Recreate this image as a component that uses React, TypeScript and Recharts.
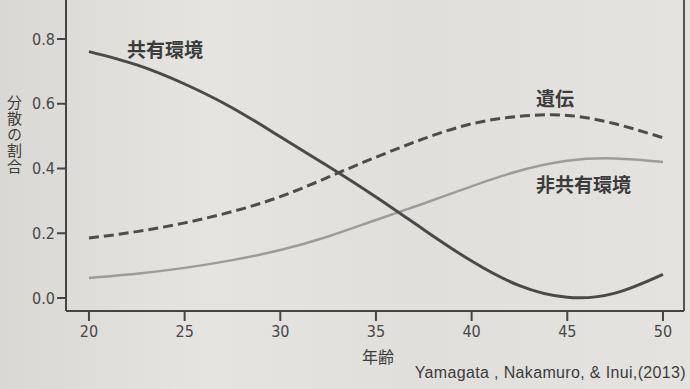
import React from "react";
import { LineChart, Line, XAxis, YAxis, ReferenceLine } from "recharts";

const ages = [20, 22.5, 25, 27.5, 30, 32.5, 35, 37.5, 40, 42.5, 45, 47.5, 50];
const sharedEnv = [0.761, 0.72, 0.661, 0.587, 0.498, 0.407, 0.312, 0.211, 0.114, 0.038, 0.002, 0.015, 0.073];
const genetic = [0.185, 0.205, 0.232, 0.267, 0.313, 0.373, 0.435, 0.492, 0.538, 0.561, 0.564, 0.538, 0.495];
const nonShared = [0.062, 0.075, 0.093, 0.117, 0.148, 0.19, 0.241, 0.292, 0.345, 0.393, 0.424, 0.431, 0.42];
const xTicks = [20, 25, 30, 35, 40, 45, 50];
const yTicks = [0, 0.2, 0.4, 0.6, 0.8];

const data = ages.map((a, i) => ({
  age: a,
  shared: sharedEnv[i],
  genetic: genetic[i],
  nonShared: nonShared[i],
}));

const tickFont = "'DejaVu Sans Condensed', 'Liberation Sans Narrow', sans-serif";
const cjk = "'Noto Sans CJK JP', sans-serif";

export default function App() {
  return (
    <div
      style={{
        position: "absolute",
        left: 0,
        top: 0,
        width: 690,
        height: 389,
        background: "linear-gradient(90deg, #dad8d4 0%, #e5e4e0 30%, #e0dfdb 60%, #e4e3df 100%)",
        overflow: "hidden",
      }}
    >
      <LineChart width={690} height={389} data={data} margin={{ top: 0, right: 6, bottom: 0, left: 0 }}>
        <XAxis
          dataKey="age"
          type="number"
          domain={[18.8, 51.1]}
          ticks={xTicks}
          allowDataOverflow
          height={78}
          tickSize={10}
          tickMargin={5}
          axisLine={{ stroke: "#454545", strokeWidth: 2 }}
          tickLine={{ stroke: "#454545", strokeWidth: 2 }}
          tick={{ fill: "#474747", fontSize: 16, fontFamily: tickFont }}
        />
        <YAxis
          type="number"
          domain={[-0.0402, 0.9205]}
          ticks={yTicks}
          allowDataOverflow
          width={66}
          tickSize={9}
          tickMargin={2}
          tickFormatter={(v: number) => v.toFixed(1)}
          axisLine={{ stroke: "#454545", strokeWidth: 2 }}
          tickLine={{ stroke: "#454545", strokeWidth: 2 }}
          tick={{ fill: "#474747", fontSize: 16, fontFamily: tickFont }}
        />
        <ReferenceLine x={51.1} stroke="#555" strokeWidth={2} ifOverflow="visible" />
        <Line
          dataKey="nonShared"
          type="natural"
          stroke="#9c9c9c"
          strokeWidth={2.5}
          dot={false}
          isAnimationActive={false}
        />
        <Line
          dataKey="genetic"
          type="natural"
          stroke="#4d4d4d"
          strokeWidth={3}
          strokeDasharray="10 5"
          dot={false}
          isAnimationActive={false}
        />
        <Line
          dataKey="shared"
          type="natural"
          stroke="#4a4a4a"
          strokeWidth={3}
          dot={false}
          isAnimationActive={false}
        />
      </LineChart>
      <div style={{ position: "absolute", left: 127, top: 36, fontFamily: cjk, fontSize: 19, fontWeight: 700, color: "#3c3c3c", lineHeight: "26px" }}>
        共有環境
      </div>
      <div style={{ position: "absolute", left: 536, top: 85, fontFamily: cjk, fontSize: 19, fontWeight: 700, color: "#3c3c3c", lineHeight: "26px" }}>
        遺伝
      </div>
      <div style={{ position: "absolute", left: 536, top: 171, fontFamily: cjk, fontSize: 19, fontWeight: 700, color: "#3c3c3c", lineHeight: "26px" }}>
        非共有環境
      </div>
      <div
        style={{
          position: "absolute",
          left: 6,
          top: 95,
          fontFamily: cjk,
          fontSize: 15,
          color: "#3c3c3c",
          writingMode: "vertical-rl",
          lineHeight: "17px",
          letterSpacing: 1,
        }}
      >
        分散の割合
      </div>
      <div style={{ position: "absolute", left: 362, top: 345, fontFamily: cjk, fontSize: 16, color: "#3c3c3c", lineHeight: "22px" }}>
        年齢
      </div>
      <div
        style={{
          position: "absolute",
          right: 4,
          top: 363,
          fontFamily: "'Liberation Sans', Arial, sans-serif",
          fontSize: 16,
          letterSpacing: 0.35,
          color: "#3c3c3c",
          lineHeight: "20px",
          whiteSpace: "nowrap",
        }}
      >
        Yamagata , Nakamuro, &amp; Inui,(2013)
      </div>
    </div>
  );
}
